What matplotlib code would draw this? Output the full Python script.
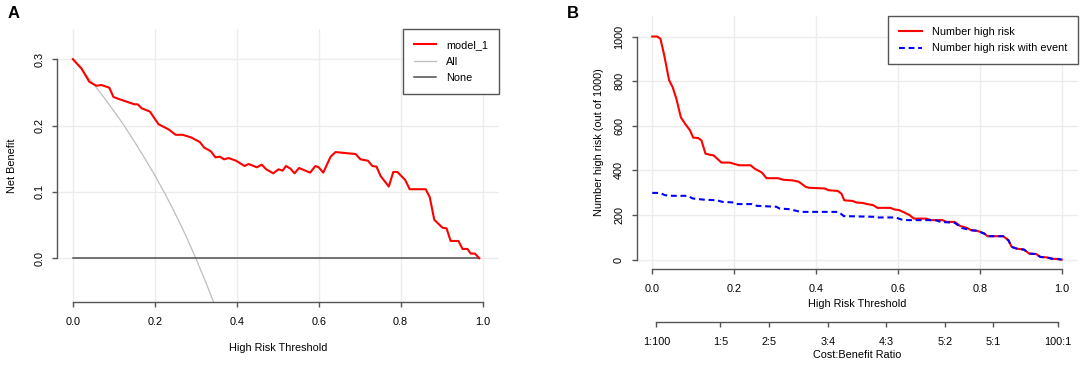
import matplotlib
matplotlib.use("Agg")
import matplotlib.pyplot as plt

plt.rcParams['font.family'] = ['Liberation Sans', 'DejaVu Sans']
plt.rcParams['font.size'] = 7.8

# Panel A: decision curve (net benefit)
thr_a = [0.000, 0.021, 0.040, 0.057, 0.070, 0.089, 0.099, 0.112, 0.150, 0.158,
         0.168, 0.188, 0.209, 0.234, 0.251, 0.268, 0.289, 0.310, 0.320, 0.337,
         0.348, 0.359, 0.369, 0.380, 0.398, 0.419, 0.429, 0.449, 0.461, 0.472,
         0.489, 0.502, 0.512, 0.520, 0.531, 0.541, 0.552, 0.579, 0.592, 0.600,
         0.611, 0.629, 0.641, 0.690, 0.702, 0.720, 0.731, 0.741, 0.751, 0.771,
         0.782, 0.792, 0.811, 0.822, 0.861, 0.871, 0.882, 0.902, 0.912, 0.922,
         0.941, 0.951, 0.963, 0.971, 0.981, 0.992]
nb_model = [0.300, 0.286, 0.266, 0.260, 0.261, 0.257, 0.243, 0.240, 0.232, 0.232,
            0.226, 0.221, 0.202, 0.194, 0.186, 0.186, 0.182, 0.175, 0.167, 0.161,
            0.152, 0.153, 0.149, 0.151, 0.147, 0.139, 0.142, 0.137, 0.141, 0.134,
            0.128, 0.134, 0.132, 0.139, 0.135, 0.128, 0.136, 0.129, 0.139, 0.137,
            0.129, 0.153, 0.160, 0.157, 0.149, 0.147, 0.139, 0.138, 0.124, 0.108,
            0.130, 0.130, 0.118, 0.104, 0.104, 0.092, 0.058, 0.046, 0.045, 0.026,
            0.026, 0.014, 0.014, 0.007, 0.007, 0.000]

thr_all = [0.000, 0.025, 0.050, 0.075, 0.100, 0.125, 0.150, 0.175, 0.200,
           0.225, 0.250, 0.275, 0.300, 0.325, 0.350]
nb_all = [0.300, 0.282, 0.263, 0.243, 0.222, 0.200, 0.176, 0.151, 0.125,
          0.097, 0.067, 0.035, 0.000, -0.037, -0.077]

thr_none = [0.0, 0.992]
nb_none = [0.0, 0.0]

# Panel B: clinical impact curve
thr_b = [0.000, 0.012, 0.020, 0.029, 0.041, 0.050, 0.059, 0.070, 0.081, 0.092,
         0.100, 0.112, 0.120, 0.130, 0.141, 0.150, 0.169, 0.189, 0.212, 0.240,
         0.250, 0.268, 0.279, 0.307, 0.320, 0.344, 0.358, 0.375, 0.383, 0.421,
         0.431, 0.453, 0.462, 0.469, 0.489, 0.499, 0.514, 0.525, 0.540, 0.550,
         0.582, 0.591, 0.603, 0.616, 0.629, 0.639, 0.669, 0.680, 0.709, 0.719,
         0.739, 0.752, 0.769, 0.779, 0.794, 0.811, 0.819, 0.857, 0.870, 0.878,
         0.891, 0.908, 0.921, 0.938, 0.948, 0.964, 0.976, 0.989, 1.000]
n_high = [1000, 1000, 990, 918, 805, 772, 720, 637, 607, 580,
          547, 545, 535, 475, 470, 467, 435, 435, 423, 423,
          408, 390, 365, 365, 358, 355, 349, 326, 322, 319,
          311, 308, 296, 266, 263, 256, 254, 249, 244, 232,
          232, 225, 222, 211, 199, 184, 184, 177, 177, 169,
          169, 151, 142, 132, 129, 117, 105, 105, 87, 57,
          49, 45, 27, 25, 12, 10, 4, 3, 0]

thr_b_event = [0.000, 0.019, 0.031, 0.047, 0.086, 0.099, 0.125, 0.158, 0.171, 0.201,
               0.209, 0.243, 0.256, 0.303, 0.311, 0.336, 0.362, 0.455, 0.468, 0.540,
               0.548, 0.595, 0.608, 0.625, 0.692, 0.705, 0.739, 0.756, 0.779, 0.794,
               0.811, 0.819, 0.857, 0.870, 0.878, 0.891, 0.908, 0.921, 0.938, 0.948,
               0.964, 0.976, 0.989, 1.000]
n_high_event = [299, 299, 289, 286, 286, 274, 269, 266, 259, 256,
                249, 249, 241, 237, 229, 226, 214, 214, 195, 192,
                189, 189, 180, 177, 177, 169, 165, 142, 132, 129,
                117, 105, 105, 87, 57, 49, 45, 27, 25, 12,
                10, 4, 3, 0]

cb_labels = ["1:100", "1:5", "2:5", "3:4", "4:3", "5:2", "5:1", "100:1"]

axis_col = '#555555'
grid_col = '#ececec'
W, H = 1084, 365


def style_axes(ax, ybounds, yticks):
    ax.grid(True, color=grid_col, lw=1.0)
    ax.set_axisbelow(True)
    for s in ['top', 'right']:
        ax.spines[s].set_visible(False)
    for s in ['left', 'bottom']:
        ax.spines[s].set_color(axis_col)
        ax.spines[s].set_linewidth(1.0)
    ax.spines['left'].set_bounds(*ybounds)
    ax.spines['bottom'].set_bounds(0, 1)
    ax.set_xticks([0, 0.2, 0.4, 0.6, 0.8, 1.0])
    ax.set_yticks(yticks)
    ax.tick_params(color=axis_col, width=1.0, length=3.6, direction='out')
    ax.tick_params(axis='x', pad=7.3)
    ax.tick_params(axis='y', pad=5.5, labelrotation=90)
    for lab in ax.get_yticklabels():
        lab.set_va('center')


def add_legend(ax):
    leg = ax.legend(loc='upper right', bbox_to_anchor=(1, 1), borderaxespad=0,
                    fancybox=False, framealpha=1, edgecolor=axis_col,
                    handlelength=2.1, handletextpad=0.9, labelspacing=0.6,
                    borderpad=1.0)
    leg.get_frame().set_linewidth(1.0)
    return leg


fig = plt.figure(figsize=(W / 100, H / 100), dpi=100)

# ---- A ----
axA = fig.add_axes([57.3 / W, 1 - 302.3 / H, 441.7 / W, 273 / H])
axA.plot(thr_a, nb_model, color='#ff0000', lw=1.5, label='model_1', zorder=3)
axA.plot(thr_all, nb_all, color='#bebebe', lw=0.9, label='All', zorder=2)
axA.plot(thr_none, nb_none, color='#4d4d4d', lw=1.1, label='None', zorder=2)
axA.set_xlim(-0.038, 1.04)
axA.set_ylim(-0.0664, 0.345)
style_axes(axA, (0, 0.3), [0.0, 0.1, 0.2, 0.3])
axA.set_yticklabels(['0.0', '0.1', '0.2', '0.3'])
axA.set_xlabel('High Risk Threshold')
axA.set_ylabel('Net Benefit')
axA.xaxis.set_label_coords(0.5, (302.3 - 348.3) / 273)
axA.xaxis.label.set_va('center')
axA.yaxis.set_label_coords((11.7 - 57.3) / 441.7, 0.5)
axA.yaxis.label.set_va('center')
add_legend(axA)

# ---- B ----
axB = fig.add_axes([636.7 / W, 1 - 269 / H, 441.3 / W, 253 / H])
axB.plot(thr_b, n_high, color='#ff0000', lw=1.5, label='Number high risk', zorder=3)
axB.plot(thr_b_event, n_high_event, color='#0000ff', lw=1.5, dashes=(2.8, 1.8),
         label='Number high risk with event', zorder=4)
axB.set_xlim(-0.038, 1.04)
axB.set_ylim(-42, 1092)
style_axes(axB, (0, 1000), [0, 200, 400, 600, 800, 1000])
axB.set_xlabel('High Risk Threshold')
axB.set_ylabel('Number high risk (out of 1000)')
axB.xaxis.set_label_coords(0.5, (269 - 304) / 253)
axB.xaxis.label.set_va('center')
axB.yaxis.set_label_coords((599.3 - 636.7) / 441.3, 0.5)
axB.yaxis.label.set_va('center')
add_legend(axB)

# cost:benefit axis below
cb_pos = []
for lab in cb_labels:
    a, b = lab.split(':')
    cb_pos.append(float(a) / (float(a) + float(b)))
ax2 = axB.twiny()
ax2.set_xlim(axB.get_xlim())
ax2.xaxis.set_ticks_position('bottom')
ax2.xaxis.set_label_position('bottom')
ax2.spines['bottom'].set_position(('outward', (321.7 - 269) * 0.72))
ax2.spines['bottom'].set_bounds(cb_pos[0], cb_pos[-1])
ax2.spines['bottom'].set_color(axis_col)
ax2.spines['bottom'].set_linewidth(1.0)
for s in ['top', 'left', 'right']:
    ax2.spines[s].set_visible(False)
ax2.set_xticks(cb_pos)
ax2.set_xticklabels(cb_labels)
ax2.tick_params(color=axis_col, width=1.0, length=3.6, direction='out', pad=7.3)
ax2.set_xlabel('Cost:Benefit Ratio')
ax2.xaxis.set_label_coords(0.5, (269 - 355) / 253)
ax2.xaxis.label.set_va('center')

fig.text(13.7 / W, 1 - 13.7 / H, 'A', fontsize=12, fontweight='bold', ha='center', va='center')
fig.text(573 / W, 1 - 13.2 / H, 'B', fontsize=12, fontweight='bold', ha='center', va='center')

fig.savefig('out.png', dpi=100)
